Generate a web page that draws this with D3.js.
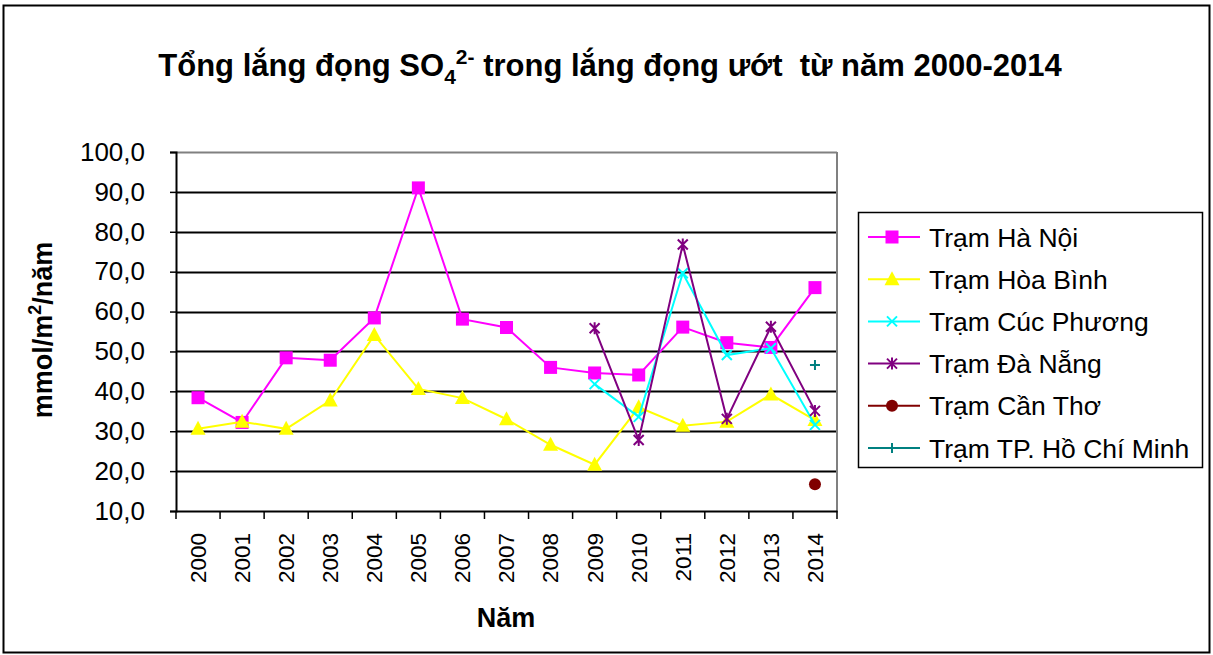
<!DOCTYPE html>
<html>
<head>
<meta charset="utf-8">
<script src="https://cdn.jsdelivr.net/npm/d3@7"></script>
<style>
  body { margin: 0; background: #fff; }
  text { font-family: Arial, "Liberation Sans", sans-serif; }
</style>
</head>
<body>
<svg id="chart" width="1213" height="655"></svg>
<script>
// chart data
var years = ["2000", "2001", "2002", "2003", "2004", "2005", "2006", "2007",
             "2008", "2009", "2010", "2011", "2012", "2013", "2014"];
var yTicks = [10, 20, 30, 40, 50, 60, 70, 80, 90, 100];

var haNoi    = [38.4, 32.2, 48.4, 47.8, 58.4, 91.0, 58.1, 56.0, 46.0, 44.6, 44.1, 56.1, 52.2, 51.0, 66.0];
var hoaBinh  = [30.6, 32.4, 30.6, 37.7, 54.1, 40.6, 38.3, 33.0, 26.6, 21.6, 36.0, 31.4, 32.4, 39.2, 32.8];
var cucPhuong = [null, null, null, null, null, null, null, null, null, 41.8, 33.6, 69.6, 49.1, 50.8, 31.6];
var daNang   = [null, null, null, null, null, null, null, null, null, 55.8, 27.8, 76.8, 33.1, 56.2, 35.1];
var canTho   = [null, null, null, null, null, null, null, null, null, null, null, null, null, null, 16.7];
var hcm      = [null, null, null, null, null, null, null, null, null, null, null, null, null, null, 46.6];

var series = [
    {name: "Trạm Hà Nội", values: haNoi, color: "#ff00ff", marker: "square"},
    {name: "Trạm Hòa Bình", values: hoaBinh, color: "#ffff00", marker: "triangle"},
    {name: "Trạm Cúc Phương", values: cucPhuong, color: "#00ffff", marker: "x"},
    {name: "Trạm Đà Nẵng", values: daNang, color: "#800080", marker: "star"},
    {name: "Trạm Cần Thơ", values: canTho, color: "#800000", marker: "circle"},
    {name: "Trạm TP. Hồ Chí Minh", values: hcm, color: "#008080", marker: "plus"}
];

var svg = d3.select("#chart");

// outer frame
svg.append("rect")
    .attr("x", 3.5).attr("y", 5.5)
    .attr("width", 1206).attr("height", 647)
    .attr("fill", "none")
    .attr("stroke", "black")
    .attr("stroke-width", 2);

var plot = {left: 176, right: 837, top: 152, bottom: 511};

var x = d3.scaleBand()
    .domain(years)
    .range([plot.left, plot.right]);

var y = d3.scaleLinear()
    .domain([10, 100])
    .range([plot.bottom, plot.top]);

// title
var title = svg.append("text")
    .attr("x", 610).attr("y", 76)
    .attr("text-anchor", "middle")
    .attr("font-size", "31px")
    .attr("font-weight", "bold")
    .style("white-space", "pre");
title.append("tspan").text("Tổng lắng đọng SO");
title.append("tspan").attr("font-size", "21px").attr("dy", 8).text("4");
title.append("tspan").attr("font-size", "21px").attr("dy", -20).text("2-");
title.append("tspan").attr("dy", 12).text(" trong lắng đọng ướt  từ năm 2000-2014");

// grid lines
svg.append("g")
    .selectAll("line")
    .data(yTicks.slice(1))
    .enter()
    .append("line")
    .attr("x1", plot.left).attr("x2", plot.right)
    .attr("y1", function(d) { return Math.round(y(d)) + 0.5; })
    .attr("y2", function(d) { return Math.round(y(d)) + 0.5; })
    .attr("stroke", function(d) { return d == 100 ? "#808080" : "black"; })
    .attr("stroke-width", 2);

// plot area border (right side)
svg.append("line")
    .attr("x1", plot.right).attr("x2", plot.right)
    .attr("y1", plot.top).attr("y2", plot.bottom)
    .attr("stroke", "#808080")
    .attr("stroke-width", 2);

// y axis
var yAxis = d3.axisLeft(y)
    .tickValues(yTicks)
    .tickSize(6)
    .tickFormat(function(d) { return d3.format(".1f")(d).replace(".", ","); });

var gy = svg.append("g")
    .attr("transform", "translate(" + plot.left + ",0)")
    .call(yAxis);
gy.select(".domain").attr("stroke", "black").attr("stroke-width", 2);
gy.selectAll(".tick line").attr("stroke", "black").attr("stroke-width", 1.5);
gy.selectAll(".tick text")
    .attr("x", -31)
    .attr("font-size", "26px")
    .attr("fill", "black");

// x axis
var xAxis = d3.axisBottom(x)
    .tickSize(0)
    .tickSizeOuter(0);

var gx = svg.append("g")
    .attr("transform", "translate(0," + plot.bottom + ")")
    .call(xAxis);
gx.select(".domain").attr("stroke", "black").attr("stroke-width", 2);
gx.selectAll(".tick text")
    .attr("transform", "rotate(-90)")
    .attr("x", -22)
    .attr("y", 0)
    .attr("dy", "0.35em")
    .attr("text-anchor", "end")
    .attr("font-size", "22.5px")
    .attr("fill", "black");

// x ticks between categories
svg.append("g")
    .selectAll("line")
    .data(years.concat(["end"]))
    .enter()
    .append("line")
    .attr("x1", function(d, i) { return plot.left + i * x.bandwidth(); })
    .attr("x2", function(d, i) { return plot.left + i * x.bandwidth(); })
    .attr("y1", plot.bottom).attr("y2", plot.bottom + 8)
    .attr("stroke", "black")
    .attr("stroke-width", 1.5);

// axis titles
svg.append("text")
    .attr("transform", "translate(52,330) rotate(-90)")
    .attr("text-anchor", "middle")
    .attr("font-size", "27px")
    .attr("font-weight", "bold")
    .html('mmol/m<tspan font-size="18px" dy="-11">2</tspan><tspan dy="11">/năm</tspan>');

svg.append("text")
    .attr("x", 506).attr("y", 627)
    .attr("text-anchor", "middle")
    .attr("font-size", "27px")
    .attr("font-weight", "bold")
    .text("Năm");

// markers
function drawMarker(g, type, color) {
    if (type == "square") {
        g.append("rect").attr("x", -6.5).attr("y", -6.5).attr("width", 13).attr("height", 13)
            .attr("fill", color);
    } else if (type == "triangle") {
        g.append("path").attr("d", "M0,-8L7.5,6L-7.5,6Z").attr("fill", color);
    } else if (type == "x") {
        g.append("path").attr("d", "M-5,-5L5,5M-5,5L5,-5")
            .attr("stroke", color).attr("stroke-width", 2);
    } else if (type == "star") {
        g.append("path").attr("d", "M-5,-5L5,5M-5,5L5,-5M0,-6L0,6")
            .attr("stroke", color).attr("stroke-width", 2);
    } else if (type == "circle") {
        g.append("circle").attr("r", 6).attr("fill", color);
    } else if (type == "plus") {
        g.append("path").attr("d", "M-5,0L5,0M0,-5L0,5")
            .attr("stroke", color).attr("stroke-width", 2);
    }
}

var line = d3.line()
    .defined(function(d) { return d.v != null; })
    .x(function(d) { return x(d.year) + x.bandwidth() / 2; })
    .y(function(d) { return y(d.v); });

series.forEach(function(s) {
    var pts = years.map(function(yr, i) { return {year: yr, v: s.values[i]}; });
    svg.append("path")
        .datum(pts)
        .attr("d", line)
        .attr("fill", "none")
        .attr("stroke", s.color)
        .attr("stroke-width", 2);

    svg.append("g")
        .selectAll("g")
        .data(pts.filter(function(d) { return d.v != null; }))
        .enter()
        .append("g")
        .attr("transform", function(d) {
            return "translate(" + (x(d.year) + x.bandwidth() / 2) + "," + y(d.v) + ")";
        })
        .each(function() { drawMarker(d3.select(this), s.marker, s.color); });
});

// legend
var legend = svg.append("g");
legend.append("rect")
    .attr("x", 858.5).attr("y", 212.5)
    .attr("width", 344).attr("height", 255)
    .attr("fill", "white")
    .attr("stroke", "black")
    .attr("stroke-width", 1.5);

var items = legend.selectAll("g.item")
    .data(series)
    .enter()
    .append("g")
    .attr("class", "item")
    .attr("transform", function(d, i) { return "translate(0," + (237 + i * 42.2) + ")"; });

items.append("line")
    .attr("x1", 868).attr("x2", 920)
    .attr("y1", 0).attr("y2", 0)
    .attr("stroke", function(d) { return d.color; })
    .attr("stroke-width", 2);

items.append("g")
    .attr("transform", "translate(892,0)")
    .each(function(d) { drawMarker(d3.select(this), d.marker, d.color); });

items.append("text")
    .attr("x", 929)
    .attr("y", 0)
    .attr("dy", "0.36em")
    .attr("font-size", "26.5px")
    .attr("fill", "black")
    .text(function(d) { return d.name; });
</script>
</body>
</html>
